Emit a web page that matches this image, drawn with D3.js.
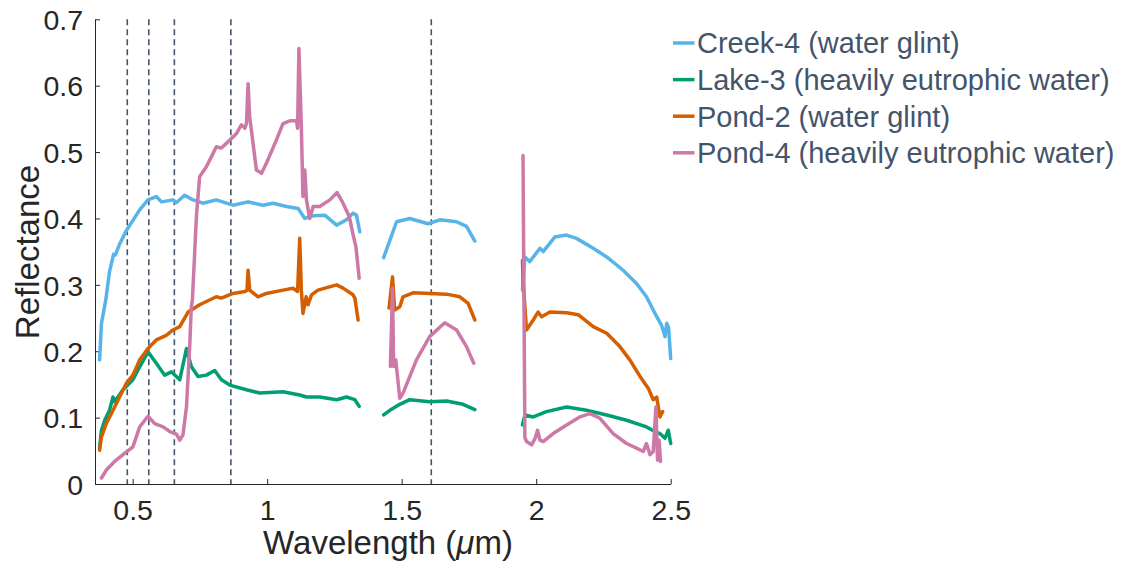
<!DOCTYPE html>
<html>
<head>
<meta charset="utf-8">
<script src="https://cdn.jsdelivr.net/npm/d3@7"></script>
<style>
  body { margin: 0; background: #fff; }
  text { font-family: "Liberation Sans", Arial, sans-serif; }
</style>
</head>
<body>
<svg id="chart" width="1124" height="573"></svg>
<script>
// spectra, [wavelength um, reflectance], null = gap (water absorption bands)
var creek4 = [
  [0.377,0.187],[0.384,0.242],[0.400,0.277],[0.414,0.320],[0.422,0.334],[0.429,0.346],[0.436,0.345],[0.452,0.362],
  [0.477,0.382],[0.526,0.413],[0.557,0.428],[0.588,0.433],[0.607,0.425],[0.650,0.428],[0.663,0.424],
  [0.693,0.435],[0.724,0.428],[0.761,0.423],[0.811,0.428],[0.873,0.420],[0.929,0.425],[0.985,0.420],
  [1.022,0.423],[1.072,0.418],[1.115,0.415],[1.140,0.400],[1.171,0.404],[1.214,0.405],[1.258,0.390],
  [1.295,0.398],[1.319,0.408],[1.332,0.405],[1.344,0.380],
  null,
  [1.433,0.341],[1.456,0.367],[1.481,0.395],[1.530,0.400],[1.598,0.392],[1.642,0.398],[1.704,0.395],
  [1.741,0.388],[1.772,0.366],
  null,
  [1.949,0.292],[1.958,0.342],[1.976,0.335],[2.014,0.355],[2.026,0.350],[2.069,0.372],[2.113,0.375],
  [2.150,0.370],[2.212,0.355],[2.262,0.342],[2.323,0.322],[2.373,0.302],[2.410,0.282],[2.448,0.252],
  [2.466,0.239],[2.479,0.222],[2.485,0.242],[2.492,0.236],[2.500,0.189]
];

var lake3 = [
  [0.377,0.054],[0.384,0.081],[0.396,0.096],[0.414,0.111],[0.427,0.131],[0.433,0.124],[0.464,0.142],
  [0.501,0.157],[0.520,0.172],[0.557,0.199],[0.588,0.182],[0.619,0.164],[0.644,0.169],[0.675,0.157],
  [0.700,0.204],[0.718,0.177],[0.743,0.162],[0.774,0.164],[0.805,0.171],[0.830,0.157],[0.861,0.149],
  [0.923,0.142],[0.972,0.137],[1.059,0.139],[1.121,0.134],[1.146,0.131],[1.195,0.131],[1.258,0.127],
  [1.295,0.131],[1.326,0.127],[1.342,0.117],
  null,
  [1.433,0.104],[1.456,0.111],[1.493,0.120],[1.530,0.127],[1.604,0.124],[1.667,0.125],[1.728,0.120],
  [1.772,0.112],
  null,
  [1.949,0.089],[1.958,0.104],[1.989,0.101],[2.038,0.109],[2.113,0.116],[2.187,0.111],[2.262,0.104],
  [2.336,0.096],[2.410,0.086],[2.441,0.079],[2.460,0.076],[2.479,0.069],[2.491,0.081],[2.500,0.061]
];

var pond2 = [
  [0.377,0.051],[0.384,0.071],[0.402,0.091],[0.433,0.116],[0.477,0.152],[0.501,0.164],[0.526,0.187],
  [0.557,0.204],[0.588,0.217],[0.625,0.224],[0.650,0.232],[0.675,0.237],[0.706,0.259],[0.749,0.270],
  [0.811,0.282],[0.830,0.280],[0.873,0.287],[0.917,0.290],[0.925,0.292],[0.929,0.322],[0.935,0.292],
  [0.966,0.282],[0.997,0.287],[1.059,0.292],[1.096,0.295],[1.113,0.290],[1.121,0.370],[1.127,0.292],
  [1.133,0.257],[1.145,0.282],[1.152,0.270],[1.165,0.285],[1.189,0.292],[1.258,0.300],[1.282,0.295],
  [1.319,0.285],[1.326,0.280],[1.338,0.247],
  null,
  [1.453,0.265],[1.466,0.312],[1.474,0.262],[1.493,0.267],[1.505,0.282],[1.542,0.288],[1.604,0.287],
  [1.667,0.286],[1.716,0.282],[1.747,0.272],[1.772,0.247],
  null,
  [1.949,0.337],[1.951,0.307],[1.964,0.232],[1.989,0.247],[2.007,0.259],[2.020,0.252],[2.051,0.259],
  [2.113,0.258],[2.156,0.255],[2.212,0.237],[2.262,0.227],[2.311,0.207],[2.348,0.187],[2.386,0.162],
  [2.417,0.144],[2.435,0.127],[2.448,0.131],[2.460,0.101],[2.470,0.109]
];

var pond4 = [
  [0.384,0.009],[0.402,0.021],[0.433,0.034],[0.470,0.046],[0.501,0.056],[0.526,0.086],[0.557,0.102],
  [0.582,0.091],[0.613,0.086],[0.638,0.079],[0.663,0.075],[0.675,0.066],[0.687,0.074],[0.700,0.116],
  [0.712,0.207],[0.718,0.267],[0.722,0.277],[0.737,0.403],[0.749,0.463],[0.774,0.478],[0.799,0.498],
  [0.811,0.508],[0.830,0.506],[0.861,0.518],[0.886,0.528],[0.904,0.541],[0.917,0.536],[0.923,0.543],
  [0.929,0.603],[0.935,0.553],[0.960,0.473],[0.979,0.468],[0.997,0.483],[1.034,0.518],[1.059,0.543],
  [1.084,0.547],[1.109,0.547],[1.113,0.536],[1.118,0.656],[1.127,0.538],[1.133,0.433],[1.140,0.473],
  [1.146,0.428],[1.158,0.400],[1.171,0.418],[1.195,0.418],[1.233,0.428],[1.260,0.439],[1.282,0.423],
  [1.305,0.403],[1.318,0.378],[1.330,0.357],[1.342,0.310],
  null,
  [1.458,0.177],[1.466,0.295],[1.470,0.177],[1.478,0.187],[1.493,0.129],[1.505,0.137],[1.555,0.187],
  [1.604,0.222],[1.660,0.243],[1.704,0.232],[1.741,0.207],[1.768,0.182],
  null,
  [1.951,0.495],[1.958,0.070],[1.964,0.064],[1.983,0.059],[1.996,0.069],[2.005,0.081],[2.014,0.066],
  [2.026,0.064],[2.063,0.076],[2.113,0.089],[2.162,0.101],[2.200,0.106],[2.237,0.099],[2.286,0.076],
  [2.336,0.061],[2.373,0.054],[2.398,0.049],[2.410,0.061],[2.423,0.044],[2.435,0.049],[2.445,0.116],
  [2.451,0.036],[2.457,0.066],[2.462,0.034]
];

var seriesNames = ["Creek-4 (water glint)", "Lake-3 (heavily eutrophic water)",
                   "Pond-2 (water glint)", "Pond-4 (heavily eutrophic water)"];
var seriesColors = ["#56B4E9", "#009E73", "#D55E00", "#CC79A7"];
var bandLines = [0.48, 0.56, 0.655, 0.865, 1.61];
var xTicks = [0.5, 1, 1.5, 2, 2.5];
var yTicks = [0, 0.1, 0.2, 0.3, 0.4, 0.5, 0.6, 0.7];

var svg = d3.select("#chart");

//plot box (window.top is taken, so m-prefixed names)
var mLeft = 95, mRight = 670.7, mTop = 19.3, mBottom = 484;

var x = d3.scaleLinear().domain([0.36, 2.5]).range([mLeft, mRight]);
var y = d3.scaleLinear().domain([0, 0.7]).range([mBottom, mTop]);

//dashed band markers
svg.append("g").selectAll("line")
    .data(bandLines)
    .enter().append("line")
    .attr("x1", d => x(d)).attr("x2", d => x(d))
    .attr("y1", y(0.7)).attr("y2", y(0))
    .attr("stroke", "#44546A")
    .attr("stroke-width", 1.6)
    .attr("stroke-dasharray", "6,4");

//axes, MATLAB style ticks pointing inward
var xAxis = svg.append("g")
    .attr("transform", "translate(0," + mBottom + ")")
    .call(d3.axisBottom(x).tickValues(xTicks).tickSizeInner(-5).tickSizeOuter(0).tickPadding(16)
          .tickFormat(d => String(d)));
var yAxis = svg.append("g")
    .attr("transform", "translate(" + mLeft + ",0)")
    .call(d3.axisLeft(y).tickValues(yTicks).tickSizeInner(-5).tickSizeOuter(0).tickPadding(12)
          .tickFormat(d => String(d)));

[xAxis, yAxis].forEach(function(a) {
    a.select(".domain").attr("stroke", "#262626").attr("stroke-width", 1);
    a.selectAll(".tick line").attr("stroke", "#262626");
    a.selectAll(".tick text")
        .attr("fill", "#262626")
        .attr("font-family", "Liberation Sans, Arial, sans-serif")
        .attr("font-size", 28.5);
});
yAxis.selectAll(".tick text").attr("dy", "0.36em");

//spectra
var line = d3.line()
    .defined(d => d !== null)
    .x(d => x(d[0]))
    .y(d => y(d[1]));

var allSeries = [creek4, lake3, pond2, pond4];

svg.append("g").selectAll("path")
    .data(allSeries)
    .enter().append("path")
    .attr("d", line)
    .attr("fill", "none")
    .attr("stroke", (d, i) => seriesColors[i])
    .attr("stroke-width", 3.5)
    .attr("stroke-linejoin", "round")
    .attr("stroke-linecap", "round");

//axis labels
var xLabel = svg.append("text")
    .attr("x", 388)
    .attr("y", 554)
    .attr("text-anchor", "middle")
    .attr("fill", "#262626")
    .attr("font-size", 33);
xLabel.append("tspan").text("Wavelength (");
xLabel.append("tspan").attr("font-style", "italic").text("μ");
xLabel.append("tspan").text("m)");

svg.append("text")
    .attr("transform", "translate(39,252) rotate(-90)")
    .attr("text-anchor", "middle")
    .attr("fill", "#262626")
    .attr("font-size", 33)
    .text("Reflectance");

//legend
var legend = svg.append("g").attr("transform", "translate(673,43)");
var rows = legend.selectAll("g")
    .data(seriesNames)
    .enter().append("g")
    .attr("transform", (d, i) => "translate(0," + (i * 36.6) + ")");
rows.append("line")
    .attr("x1", 0).attr("x2", 21.5)
    .attr("y1", 0).attr("y2", 0)
    .attr("stroke", (d, i) => seriesColors[i])
    .attr("stroke-width", 3.5);
rows.append("text")
    .attr("x", 24)
    .attr("y", 0)
    .attr("dy", "0.36em")
    .attr("fill", "#44546A")
    .attr("font-size", 29)
    .text(d => d);
</script>
</body>
</html>
